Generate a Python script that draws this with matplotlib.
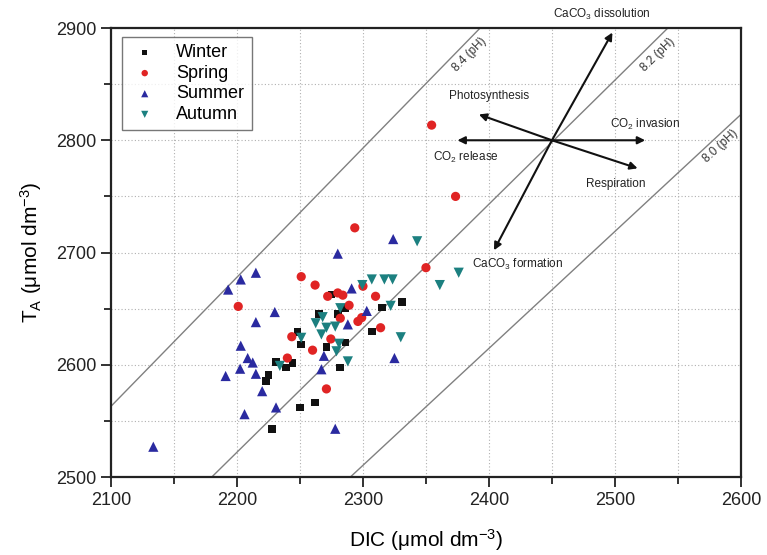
import matplotlib
matplotlib.use("Agg")
import matplotlib.pyplot as plt
import numpy as np

plt.rcParams['font.family'] = ['Liberation Sans', 'DejaVu Sans']
plt.rcParams['mathtext.default'] = 'regular'

# ---- data ----
winter_dic = [2275, 2265, 2280, 2286, 2331, 2315, 2307, 2248, 2251, 2271, 2286, 2282,
              2231, 2239, 2244, 2225, 2223, 2250, 2262, 2228]
winter_ta = [2662.5, 2645, 2645, 2650.5, 2656, 2651, 2629.5, 2629, 2618, 2616, 2620, 2597.6,
             2602.5, 2597.5, 2601.5, 2591, 2585.7, 2562, 2566.5, 2543]

spring_dic = [2201, 2243.5, 2240, 2251, 2262, 2260, 2272, 2280, 2284, 2274.5, 2271, 2282,
              2289, 2293.5, 2296, 2299, 2300, 2310, 2314, 2350, 2354.5, 2373.5]
spring_ta = [2652, 2625, 2606, 2678.5, 2671, 2613, 2661, 2664, 2662, 2623, 2578.5, 2641.5,
             2653, 2722, 2638.6, 2642, 2670, 2661, 2633, 2686.5, 2813.5, 2750]

summer_dic = [2133.6, 2193, 2203, 2215, 2230, 2215, 2203, 2208.5, 2212.5, 2202.5, 2191, 2215,
              2220, 2231, 2206, 2269, 2267, 2278, 2288, 2291, 2303, 2280, 2324, 2325]
summer_ta = [2527, 2667, 2676, 2682, 2647, 2638, 2617, 2606, 2602, 2596.5, 2590, 2592,
             2576.5, 2562, 2556, 2608, 2596, 2543, 2636, 2668, 2648, 2699, 2712, 2606]

autumn_dic = [2343, 2376, 2361, 2299.5, 2307, 2317, 2323.5, 2322, 2330, 2282, 2268, 2262.5,
              2271, 2278, 2267, 2251, 2281, 2279, 2288, 2234]
autumn_ta = [2710, 2682, 2671, 2671, 2676, 2676, 2676, 2652.5, 2624.5, 2650.4, 2642.4, 2637,
             2633, 2634, 2627, 2624, 2618.7, 2612, 2603, 2599]

# pH isolines (endpoints in DIC, TA)
ph_labels = ["8.4 (pH)", "8.2 (pH)", "8.0 (pH)"]
ph_dic = [[2100, 2393], [2180, 2542], [2290, 2600]]
ph_ta = [[2563, 2900], [2500, 2900], [2500, 2823]]
ph_label_pos = [(2385, 2876), (2534, 2876.5), (2584, 2795)]

# process vectors from a common origin
vec_origin = (2450, 2800)
vec_names = ["CaCO$_3$ dissolution", "CaCO$_3$ formation", "Photosynthesis",
             "Respiration", "CO$_2$ invasion", "CO$_2$ release"]
vec_tips = [(2498, 2896), (2404, 2702), (2392, 2823), (2518, 2775), (2524, 2800), (2375, 2800)]
vec_label_pos = [(2490, 2912), (2423, 2689), (2400, 2839), (2501, 2761), (2524, 2814), (2382, 2785)]

# ---- figure ----
fig = plt.figure(figsize=(7.67, 5.55), dpi=100)
ax = fig.add_axes([0.1447, 0.1405, 0.8213, 0.809])

ax.set_xlim(2100, 2600)
ax.set_ylim(2500, 2900)
ax.set_xticks(np.arange(2100, 2601, 100))
ax.set_yticks(np.arange(2500, 2901, 100))
ax.set_xticks(np.arange(2150, 2600, 100), minor=True)
ax.set_yticks(np.arange(2550, 2900, 100), minor=True)
ax.grid(True, which='both', linestyle=(0, (1, 2)), color='#b0b0b0', linewidth=0.8)
ax.set_axisbelow(True)
ax.tick_params(which='major', direction='out', length=7, width=1.3, labelsize=13,
               color='#222222', labelcolor='#222222')
ax.tick_params(which='minor', direction='out', length=5, width=1.3, color='#222222')
ax.tick_params(top=False, right=False)
for s in ax.spines.values():
    s.set_linewidth(1.6)
    s.set_color('#222222')

# pH lines
for lab, xs, ys, (lx, ly) in zip(ph_labels, ph_dic, ph_ta, ph_label_pos):
    ax.plot(xs, ys, color='#808080', linewidth=1.0, zorder=1)
    p0 = ax.transData.transform((xs[0], ys[0]))
    p1 = ax.transData.transform((xs[1], ys[1]))
    ang = np.degrees(np.arctan2(p1[1] - p0[1], p1[0] - p0[0]))
    ax.text(lx, ly, lab, rotation=ang, ha='center', va='center', fontsize=8.5,
            color='#333333', rotation_mode='anchor')

# arrows
for name, tip, (lx, ly) in zip(vec_names, vec_tips, vec_label_pos):
    ax.annotate('', xy=tip, xytext=vec_origin,
                arrowprops=dict(arrowstyle='-|>', color='#111111', lw=1.5,
                                mutation_scale=11, shrinkA=0, shrinkB=0), zorder=4)
    ax.text(lx, ly, name, ha='center', va='center', fontsize=8.5, color='#222222',
            clip_on=False)

# data
ax.scatter(winter_dic, winter_ta, marker='s', s=30, color='#111111', label='Winter', zorder=3, edgecolors='none')
ax.scatter(spring_dic, spring_ta, marker='o', s=44, color='#e02424', label='Spring', zorder=3, edgecolors='none')
ax.scatter(summer_dic, summer_ta, marker='^', s=54, color='#2a2aa0', label='Summer', zorder=3, edgecolors='none')
ax.scatter(autumn_dic, autumn_ta, marker='v', s=54, color='#1c8080', label='Autumn', zorder=3, edgecolors='none')

leg = ax.legend(loc='upper left', bbox_to_anchor=(0.012, 0.988), fontsize=13, frameon=True,
                fancybox=False, edgecolor='#555555', markerscale=0.7, handletextpad=0.9,
                borderpad=0.4, labelspacing=0.2, handlelength=1.7, borderaxespad=0.2)
leg.get_frame().set_linewidth(1.0)

ax.set_xlabel('DIC (μmol dm$^{-3}$)', fontsize=15, labelpad=13)
ax.set_ylabel('T$_A$ (μmol dm$^{-3}$)', fontsize=15, labelpad=9)

fig.savefig('out.png', dpi=100)
